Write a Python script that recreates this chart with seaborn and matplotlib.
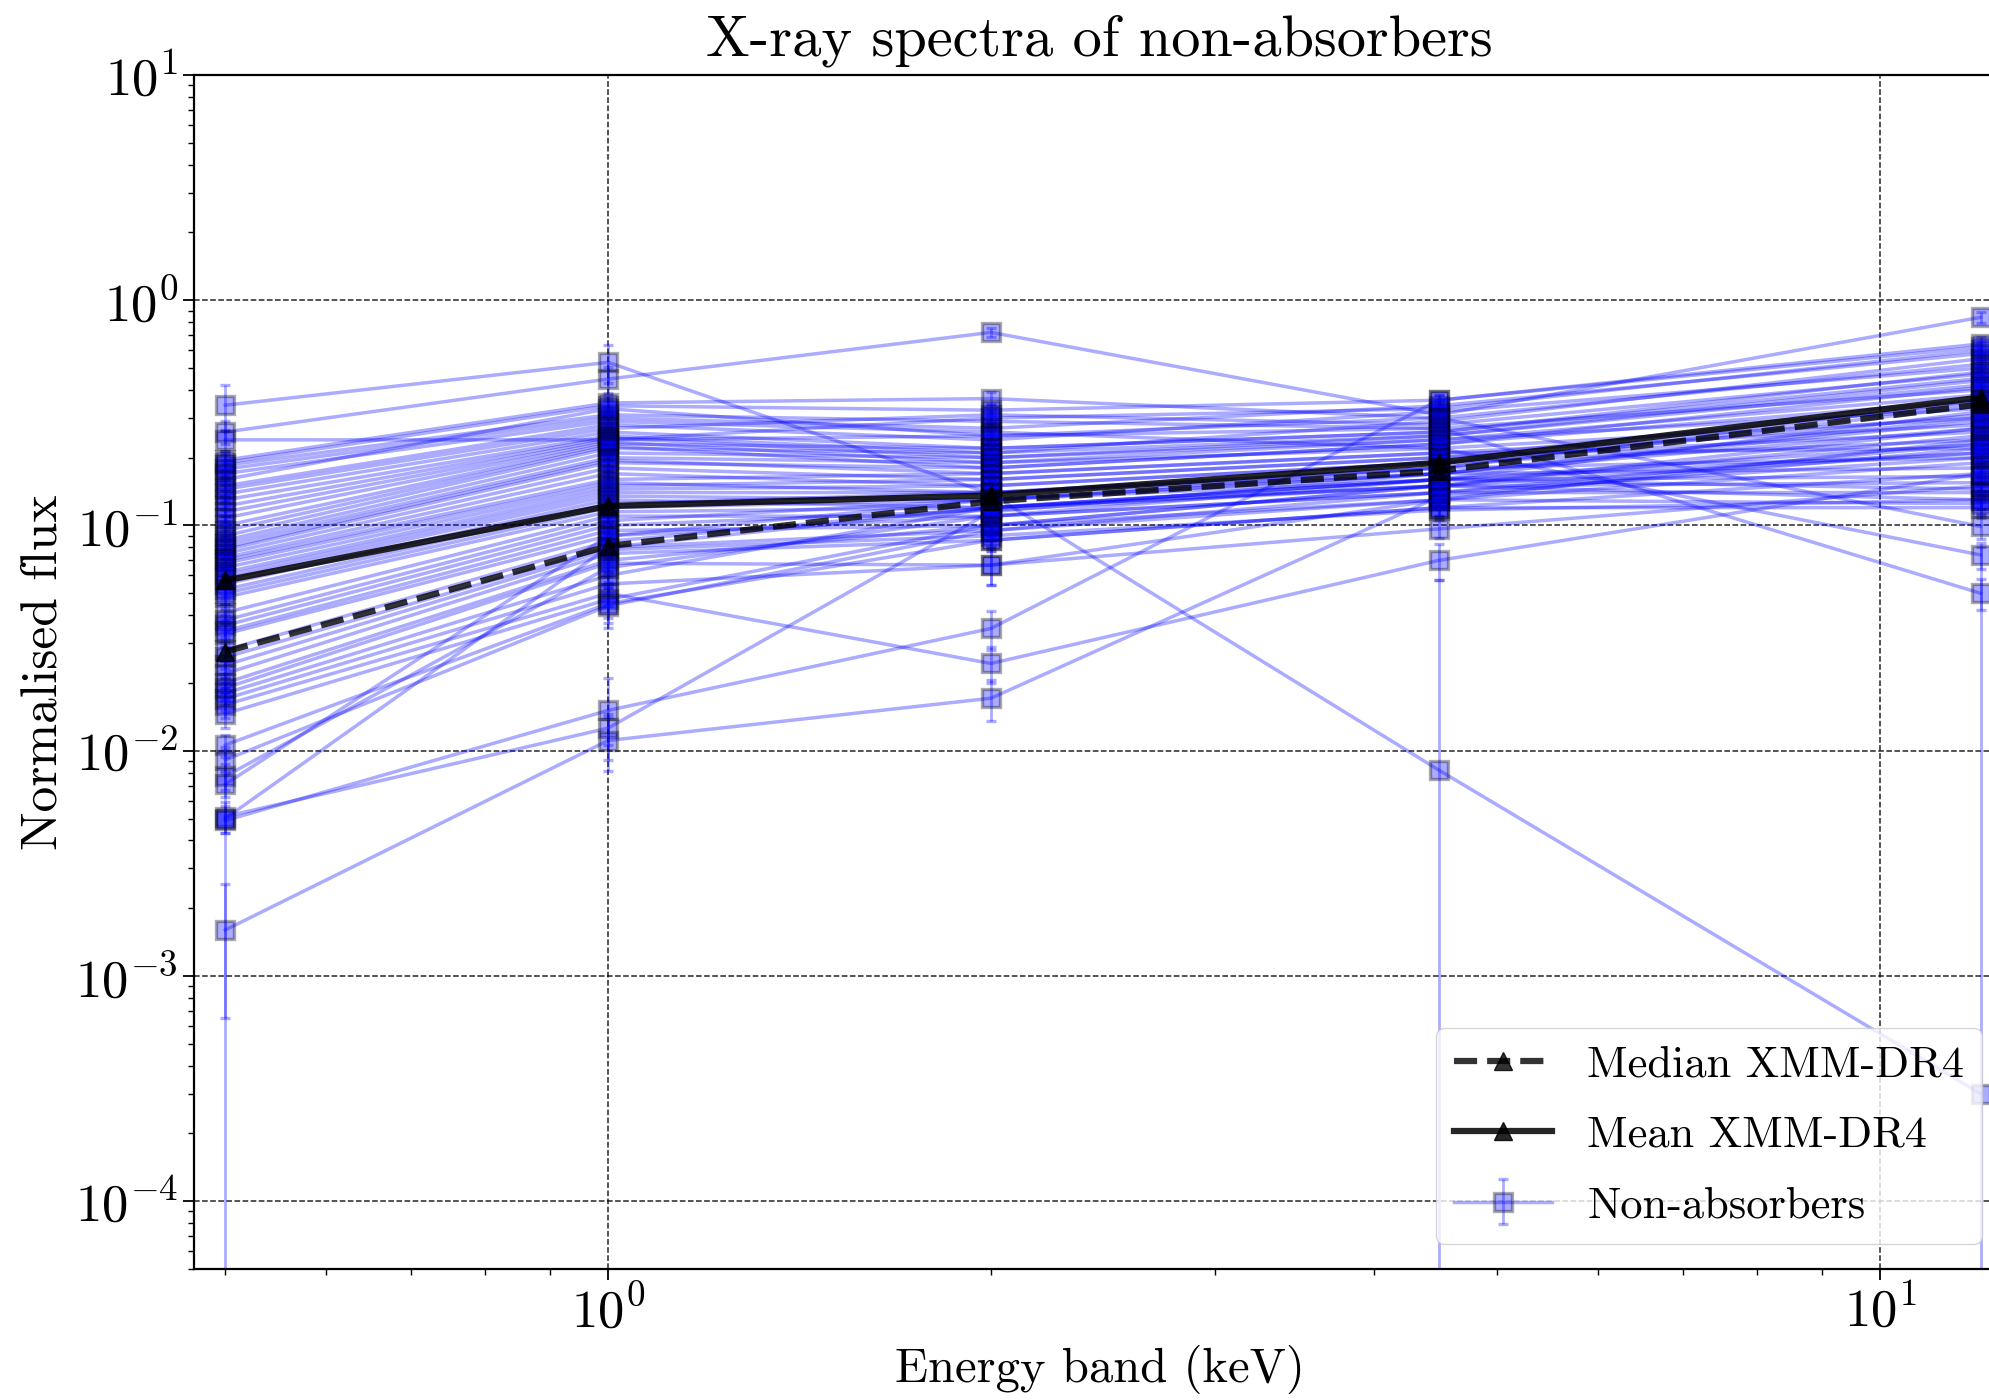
import numpy as np
import pandas as pd
import matplotlib
matplotlib.use("Agg")
import matplotlib.pyplot as plt
from matplotlib.ticker import LogLocator, NullFormatter
import seaborn as sns

# ---------------- data ----------------
energy = [0.5, 1.0, 2.0, 4.5, 12.0]  # keV (band upper edges)

flux_05 = [0.342, 0.26, 0.24, 0.195, 0.19, 0.185, 0.178, 0.17, 0.16, 0.15,
           0.145, 0.138, 0.13, 0.122, 0.115, 0.108, 0.10, 0.095, 0.09, 0.086,
           0.083, 0.08, 0.078, 0.075, 0.072, 0.07, 0.068, 0.065, 0.062, 0.06,
           0.058, 0.055, 0.052, 0.05, 0.048, 0.041, 0.038, 0.036, 0.034, 0.033,
           0.028, 0.026, 0.024, 0.022, 0.02, 0.019, 0.018, 0.017, 0.016, 0.0146,
           0.0106, 0.0091, 0.0077, 0.0071, 0.0051, 0.0049, 0.005, 0.0016]
flux_1 = [0.53, 0.447, 0.24, 0.35, 0.34, 0.31, 0.30, 0.29, 0.33, 0.28,
          0.27, 0.26, 0.25, 0.245, 0.24, 0.235, 0.23, 0.225, 0.22, 0.21,
          0.20, 0.195, 0.19, 0.18, 0.17, 0.16, 0.155, 0.15, 0.145, 0.14,
          0.135, 0.13, 0.125, 0.12, 0.115, 0.11, 0.105, 0.10, 0.095, 0.09,
          0.085, 0.08, 0.078, 0.075, 0.07, 0.068, 0.06, 0.055, 0.05, 0.047,
          0.045, 0.044, 0.065, 0.09, 0.0126, 0.0151, 0.08, 0.0111]
flux_2 = [0.138, 0.72, 0.30, 0.366, 0.325, 0.29, 0.27, 0.26, 0.25, 0.24,
          0.31, 0.22, 0.21, 0.20, 0.25, 0.19, 0.22, 0.18, 0.21, 0.20,
          0.19, 0.17, 0.18, 0.16, 0.15, 0.17, 0.14, 0.16, 0.15, 0.14,
          0.13, 0.12, 0.14, 0.13, 0.12, 0.11, 0.13, 0.117, 0.10, 0.11,
          0.12, 0.095, 0.09, 0.086, 0.10, 0.0667, 0.12, 0.0667, 0.0244, 0.10,
          0.086, 0.095, 0.11, 0.13, 0.115, 0.0349, 0.12, 0.0171]
flux_45 = [0.0082, 0.31, 0.33, 0.30, 0.36, 0.27, 0.34, 0.22, 0.30, 0.32,
           0.28, 0.26, 0.29, 0.25, 0.27, 0.24, 0.26, 0.23, 0.25, 0.24,
           0.22, 0.21, 0.23, 0.20, 0.19, 0.21, 0.18, 0.20, 0.19, 0.17,
           0.16, 0.15, 0.18, 0.17, 0.16, 0.14, 0.17, 0.15, 0.13, 0.14,
           0.16, 0.13, 0.117, 0.12, 0.15, 0.0966, 0.16, 0.13, 0.07, 0.15,
           0.12, 0.14, 0.16, 0.18, 0.17, 0.36, 0.15, 0.134]
flux_12 = [0.0003, 0.84, 0.60, 0.099, 0.64, 0.050, 0.58, 0.074, 0.52, 0.50,
           0.47, 0.45, 0.55, 0.42, 0.40, 0.38, 0.48, 0.36, 0.44, 0.33,
           0.30, 0.28, 0.41, 0.26, 0.24, 0.22, 0.20, 0.35, 0.31, 0.18,
           0.165, 0.155, 0.34, 0.29, 0.145, 0.14, 0.27, 0.13, 0.125, 0.23,
           0.21, 0.19, 0.13, 0.12, 0.25, 0.15, 0.32, 0.24, 0.17, 0.27,
           0.17, 0.20, 0.23, 0.36, 0.30, 0.62, 0.21, 0.22]

err_05 = [0.08, 0.03, 0.025, 0.02, 0.02, 0.02, 0.018, 0.017, 0.016, 0.015,
          0.015, 0.014, 0.013, 0.012, 0.012, 0.011, 0.01, 0.01, 0.009, 0.009,
          0.008, 0.008, 0.008, 0.008, 0.007, 0.007, 0.007, 0.007, 0.006, 0.006,
          0.006, 0.006, 0.005, 0.005, 0.005, 0.004, 0.004, 0.004, 0.004, 0.004,
          0.003, 0.003, 0.003, 0.003, 0.002, 0.002, 0.002, 0.002, 0.002, 0.002,
          0.0012, 0.001, 0.001, 0.0009, 0.0008, 0.0055, 0.0007, 0.00095]
err_1 = [0.10, 0.06, 0.02, 0.03, 0.03, 0.025, 0.025, 0.024, 0.028, 0.022,
         0.022, 0.02, 0.02, 0.02, 0.02, 0.019, 0.018, 0.018, 0.018, 0.017,
         0.016, 0.016, 0.015, 0.015, 0.014, 0.013, 0.013, 0.012, 0.012, 0.011,
         0.011, 0.011, 0.01, 0.01, 0.01, 0.009, 0.009, 0.009, 0.008, 0.008,
         0.008, 0.007, 0.007, 0.007, 0.007, 0.006, 0.006, 0.006, 0.006, 0.008,
         0.008, 0.009, 0.006, 0.008, 0.002, 0.006, 0.007, 0.003]
err_2 = [0.015, 0.03, 0.02, 0.025, 0.02, 0.02, 0.018, 0.018, 0.017, 0.016,
         0.02, 0.015, 0.015, 0.014, 0.016, 0.013, 0.015, 0.013, 0.014, 0.014,
         0.013, 0.012, 0.013, 0.012, 0.011, 0.012, 0.011, 0.012, 0.011, 0.011,
         0.01, 0.01, 0.011, 0.01, 0.01, 0.01, 0.01, 0.01, 0.009, 0.01,
         0.01, 0.009, 0.009, 0.009, 0.01, 0.0125, 0.01, 0.0125, 0.0045, 0.01,
         0.009, 0.01, 0.01, 0.011, 0.01, 0.007, 0.01, 0.0035]
err_45 = [0.049, 0.02, 0.02, 0.02, 0.02, 0.018, 0.02, 0.016, 0.018, 0.02,
          0.018, 0.017, 0.018, 0.016, 0.017, 0.016, 0.017, 0.015, 0.016, 0.016,
          0.015, 0.014, 0.015, 0.014, 0.013, 0.014, 0.013, 0.014, 0.013, 0.012,
          0.012, 0.012, 0.013, 0.012, 0.012, 0.011, 0.012, 0.011, 0.011, 0.011,
          0.012, 0.011, 0.01, 0.01, 0.012, 0.009, 0.012, 0.011, 0.013, 0.012,
          0.01, 0.011, 0.012, 0.013, 0.012, 0.02, 0.012, 0.011]
err_12 = [0.08, 0.05, 0.04, 0.012, 0.045, 0.008, 0.04, 0.01, 0.035, 0.035,
          0.03, 0.03, 0.035, 0.03, 0.028, 0.027, 0.03, 0.026, 0.03, 0.025,
          0.023, 0.022, 0.028, 0.02, 0.02, 0.018, 0.017, 0.025, 0.023, 0.016,
          0.015, 0.014, 0.024, 0.022, 0.014, 0.013, 0.021, 0.012, 0.012, 0.019,
          0.018, 0.017, 0.012, 0.012, 0.02, 0.014, 0.024, 0.02, 0.016, 0.021,
          0.016, 0.017, 0.019, 0.026, 0.023, 0.04, 0.018, 0.019]

mean_flux = [0.057, 0.122, 0.136, 0.19, 0.37]
median_flux = [0.0275, 0.081, 0.128, 0.175, 0.345]

title = "X-ray spectra of non-absorbers"
xlabel = "Energy band (keV)"
ylabel = "Normalised flux"
lbl_median = "Median XMM-DR4"
lbl_mean = "Mean XMM-DR4"
lbl_src = "Non-absorbers"

# ---------------- style ----------------
plt.rcParams.update({
    "font.family": "serif",
    "font.serif": ["cmr10"],
    "mathtext.fontset": "cm",
    "axes.formatter.use_mathtext": True,
    "axes.unicode_minus": False,
})

fig = plt.figure(figsize=(19.9, 14), dpi=100)
ax = fig.add_axes([0.0975, 0.0936, 0.910, 0.8528])
ax.set_xscale("log")
ax.set_yscale("log")

flux_table = np.array([flux_05, flux_1, flux_2, flux_45, flux_12]).T
err_table = np.array([err_05, err_1, err_2, err_45, err_12]).T

for i, (fl, er) in enumerate(zip(flux_table, err_table)):
    ax.errorbar(energy, fl, yerr=er, fmt="-s", color="blue", alpha=0.33,
                lw=2.5, elinewidth=2.0, capsize=3.5, capthick=1.8,
                ms=13, mfc="blue", mec="black", mew=2.4,
                label=lbl_src if i == 0 else None, zorder=2)

stats = pd.DataFrame({"energy": energy, "mean": mean_flux, "median": median_flux})
sns.lineplot(data=stats, x="energy", y="median", ax=ax, color="black",
             linestyle="--", lw=4.5, marker="^", ms=13, mec="black", mew=1,
             alpha=0.8, label=lbl_median, zorder=4)
sns.lineplot(data=stats, x="energy", y="mean", ax=ax, color="black",
             linestyle="-", lw=4.5, marker="^", ms=13, mec="black", mew=1,
             alpha=0.85, label=lbl_mean, zorder=4)

ax.set_xlim(0.4725, 12.54)
ax.set_ylim(5e-5, 10)

ax.yaxis.set_major_locator(LogLocator(base=10, numticks=20))
ax.yaxis.set_minor_locator(LogLocator(base=10, subs=np.arange(2, 10), numticks=20))
ax.yaxis.set_minor_formatter(NullFormatter())
ax.xaxis.set_minor_formatter(NullFormatter())

ax.grid(True, which="major", linestyle="--", color="black", lw=1.1, alpha=0.85)
ax.tick_params(which="major", direction="out", length=8, width=1.3, labelsize=38)
ax.tick_params(which="minor", direction="out", length=4.5, width=1.0)
for s in ax.spines.values():
    s.set_linewidth(1.6)

ax.set_title(title, fontsize=42, pad=14)
ax.set_xlabel(xlabel, fontsize=35, labelpad=6)
ax.set_ylabel(ylabel, fontsize=37, labelpad=6)

handles, labels = ax.get_legend_handles_labels()
order = [labels.index(lbl_median), labels.index(lbl_mean), labels.index(lbl_src)]
leg = ax.legend([handles[k] for k in order], [labels[k] for k in order],
                loc="lower right", bbox_to_anchor=(1982 / 1990, 1 - 1244 / 1400),
                bbox_transform=fig.transFigure, borderaxespad=0, fontsize=32,
                frameon=True, fancybox=True, framealpha=0.8, edgecolor="0.8",
                handlelength=2.2, labelspacing=0.68)

fig.savefig("out.png", dpi=100)
